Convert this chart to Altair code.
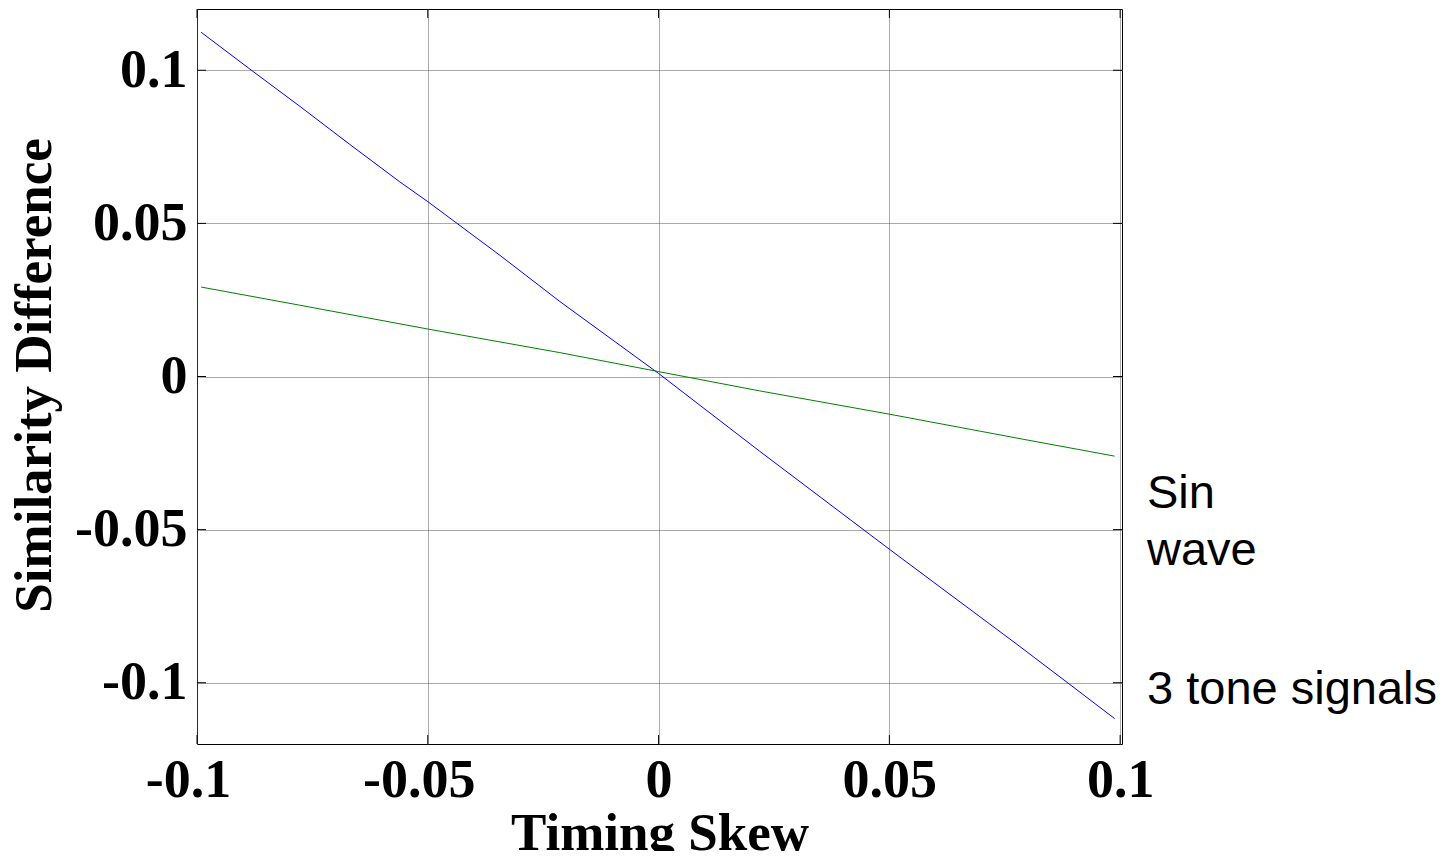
import altair as alt
import pandas as pd

# ---- data ----
tone_x = [-0.0991, -0.0883, -0.0777, -0.0670, -0.0561, -0.0500, -0.0344, -0.0214,
          0.0000, 0.0219, 0.0500, 0.0783, 0.0887, 0.0988]
tone_y = [0.1124, 0.1001, 0.0882, 0.0759, 0.0636, 0.0571, 0.0396, 0.0245,
          0.0010, -0.0244, -0.0564, -0.0882, -0.1001, -0.1117]

sin_x = [-0.0991, -0.0778, -0.0500, -0.0214, 0.0000, 0.0219, 0.0500, 0.0783, 0.0988]
sin_y = [0.0292, 0.0233, 0.0155, 0.0078, 0.0016, -0.0047, -0.0123, -0.0203, -0.0260]

x_ticks = [-0.1, -0.05, 0, 0.05, 0.1]
y_ticks = [-0.1, -0.05, 0, 0.05, 0.1]

ann_text = ["Sin", "wave", "3 tone signals"]
ann_y = [-0.0431, -0.0614, -0.1068]

series_names = ["3 tone signals", "Sin wave"]
series_colors = ["#0000ff", "#008000"]

W, H = 925, 735
X_DOMAIN = [-0.1, 0.1004]
Y_DOMAIN = [-0.12, 0.12]

lines_df = pd.DataFrame(
    {"x": tone_x + sin_x,
     "y": tone_y + sin_y,
     "series": [series_names[0]] * len(tone_x) + [series_names[1]] * len(sin_x)}
)
xt_df = pd.DataFrame({"t": x_ticks})
yt_df = pd.DataFrame({"t": y_ticks})
ann_df = pd.DataFrame({"label": ann_text, "y": ann_y})

num_lbl = "datum.value < 0 ? '-' + format(-datum.value, '~g') : format(datum.value, '~g')"

xs = alt.Scale(domain=X_DOMAIN, nice=False, zero=False)
ys = alt.Scale(domain=Y_DOMAIN, nice=False, zero=False)

x_axis = alt.Axis(values=x_ticks, grid=True, ticks=False, domain=False,
                  labelPadding=9, labelExpr=num_lbl, labelFlush=False,
                  labelOverlap=False,
                  labelOffset={"condition": {"test": "datum.value < 0", "value": -9},
                               "value": 0},
                  title="Timing Skew",
                  titleY=105, titleBaseline="alphabetic")
y_axis = alt.Axis(values=y_ticks, grid=True, ticks=False, domain=False,
                  labelPadding=10, labelExpr=num_lbl, labelOverlap=False,
                  title="Similarity Difference", titleX=-147, titleY=366,
                  titleAlign="center", titleBaseline="alphabetic",
                  titleAngle=270)

lines = alt.Chart(lines_df).mark_line(strokeWidth=1, clip=True).encode(
    x=alt.X("x:Q", scale=xs, axis=x_axis, title="Timing Skew"),
    y=alt.Y("y:Q", scale=ys, axis=y_axis, title="Similarity Difference"),
    color=alt.Color("series:N", scale=alt.Scale(domain=series_names, range=series_colors),
                    legend=None),
    detail="series:N",
)

top_ticks = alt.Chart(xt_df).mark_rule(color="black", strokeWidth=1).encode(
    x=alt.X("t:Q", scale=xs, axis=x_axis, title="Timing Skew"),
    y=alt.value(0), y2=alt.value(9))
bot_ticks = alt.Chart(xt_df).mark_rule(color="black", strokeWidth=1).encode(
    x=alt.X("t:Q", scale=xs, axis=x_axis, title="Timing Skew"),
    y=alt.value(H - 9), y2=alt.value(H))
left_ticks = alt.Chart(yt_df).mark_rule(color="black", strokeWidth=1).encode(
    y=alt.Y("t:Q", scale=ys, axis=y_axis, title="Similarity Difference"),
    x=alt.value(0), x2=alt.value(9))
right_ticks = alt.Chart(yt_df).mark_rule(color="black", strokeWidth=1).encode(
    y=alt.Y("t:Q", scale=ys, axis=y_axis, title="Similarity Difference"),
    x=alt.value(W - 9), x2=alt.value(W))

ann = alt.Chart(ann_df).mark_text(
    align="left", baseline="alphabetic", font="Liberation Sans", fontSize=47,
    color="black").encode(
    x=alt.value(950),
    y=alt.Y("y:Q", scale=ys, axis=y_axis, title="Similarity Difference"),
    text="label:N")

chart = alt.layer(lines, top_ticks, bot_ticks, left_ticks, right_ticks, ann).properties(
    width=W, height=H,
    autosize=alt.AutoSizeParams(type="none"),
    padding={"left": 189, "top": 1, "right": 320, "bottom": 107},
).configure_view(
    stroke="black", strokeWidth=1
).configure_axis(
    labelFont="Liberation Serif", labelFontWeight="bold", labelFontSize=54,
    labelColor="black", titleFont="Liberation Serif", titleFontWeight="bold",
    titleFontSize=53, titleColor="black", gridColor="#555555", gridDash=[1, 1],
    gridWidth=1, gridOpacity=1
)

chart.save("out.html", embed_options={"renderer": "svg", "actions": False})
